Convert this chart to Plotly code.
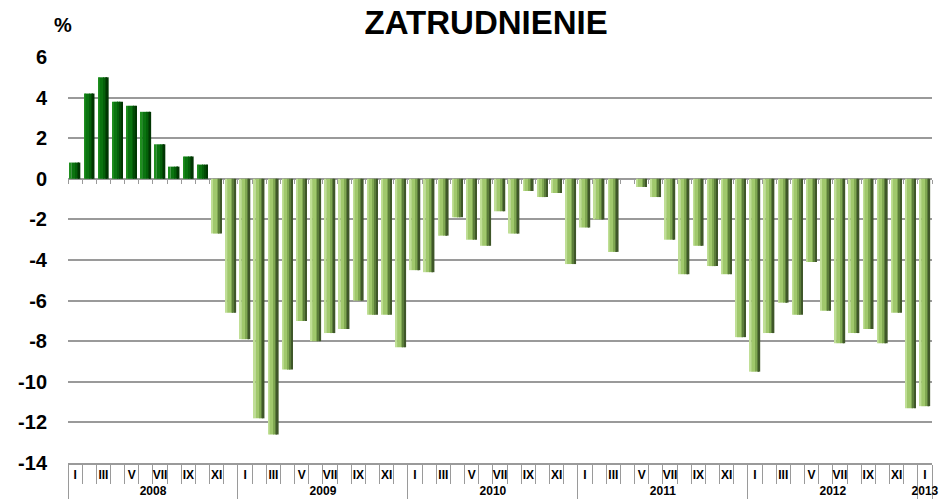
import plotly.graph_objects as go

# Monthly employment change, % y/y, Jan 2008 - Jan 2013
years = ["2008", "2009", "2010", "2011", "2012", "2013"]
months_per_year = [12, 12, 12, 12, 12, 1]
roman = ["I", "II", "III", "IV", "V", "VI", "VII", "VIII", "IX", "X", "XI", "XII"]

values = [
    0.8, 4.2, 5.0, 3.8, 3.6, 3.3, 1.7, 0.6, 1.1, 0.7, -2.7, -6.6,
    -7.9, -11.8, -12.6, -9.4, -7.0, -8.0, -7.6, -7.4, -6.0, -6.7, -6.7, -8.3,
    -4.5, -4.6, -2.8, -1.9, -3.0, -3.3, -1.6, -2.7, -0.6, -0.9, -0.7, -4.2,
    -2.4, -2.0, -3.6, 0.0, -0.4, -0.9, -3.0, -4.7, -3.3, -4.3, -4.7, -7.8,
    -9.5, -7.6, -6.1, -6.7, -4.1, -6.5, -8.1, -7.6, -7.4, -8.1, -6.6, -11.3,
    -11.2,
]

y_ticks = [6, 4, 2, 0, -2, -4, -6, -8, -10, -12, -14]
y_min, y_max = -14, 6

# two-level category axis: year / month (only odd months are labelled,
# even months get unique blank labels so every pair stays distinct)
x_year, x_month = [], []
for yr, n in zip(years, months_per_year):
    for m in range(n):
        x_year.append(yr)
        x_month.append(roman[m] if m % 2 == 0 else " " * (m + 1))

FONT = "Liberation Sans, Arial, sans-serif"
GRID = "#9a9a9a"

# bar body drawn as vertical strips to give the bevelled look
BAR_W = 0.74
strips = [
    # (start, width) as fractions of the bar, colour for positive, negative
    (0.00, 0.14, "#1f8f1f", "#c0df96"),
    (0.14, 0.40, "#0b7410", "#a0c86c"),
    (0.54, 0.16, "#05600a", "#80a852"),
    (0.70, 0.14, "#024a05", "#5b7d3a"),
    (0.84, 0.16, "#013603", "#3f5729"),
]

fig = go.Figure()
for start, width, c_pos, c_neg in strips:
    fig.add_trace(go.Bar(
        x=[x_year, x_month],
        y=values,
        width=BAR_W * width,
        offset=-BAR_W / 2 + BAR_W * start,
        marker=dict(color=[c_pos if v >= 0 else c_neg for v in values],
                    line=dict(width=0)),
        showlegend=False,
        hoverinfo="skip",
    ))

# helper trace so the zero-line tick axis is drawn
n = len(values)
fig.add_trace(go.Scatter(x=[None], y=[None], xaxis="x2", showlegend=False,
                         hoverinfo="skip"))

zero_pos = (0 - y_min) / (y_max - y_min)

fig.update_layout(
    width=941,
    height=503,
    margin=dict(l=68, r=9, t=57, b=40, autoexpand=False),
    paper_bgcolor="white",
    plot_bgcolor="white",
    barmode="overlay",
    font=dict(family=FONT, color="#000000"),
    title=dict(
        text="ZATRUDNIENIE",
        x=0.484, xref="paper", xanchor="center",
        y=1 - 22 / 503, yref="container", yanchor="middle",
        font=dict(family=FONT, size=33, weight="bold", color="#000000"),
    ),
    xaxis=dict(
        type="multicategory",
        automargin=False,
        showgrid=False,
        showline=True,
        linecolor=GRID,
        linewidth=2,
        ticks="outside",
        tickson="boundaries",
        ticklen=19,
        tickwidth=1,
        tickcolor=GRID,
        tickangle=0,
        showdividers=True,
        dividercolor=GRID,
        dividerwidth=1,
        tickfont=dict(family=FONT, size=12, weight="bold", color="#000000"),
        range=[-0.5, n - 0.5],
    ),
    xaxis2=dict(
        overlaying="x",
        anchor="free",
        position=zero_pos,
        range=[-0.5, n - 0.5],
        showgrid=False,
        zeroline=False,
        showline=False,
        ticks="outside",
        tickmode="array",
        tickvals=[i - 0.5 for i in range(n + 1)],
        ticklen=4,
        tickwidth=1,
        tickcolor=GRID,
        showticklabels=False,
    ),
    yaxis=dict(
        range=[y_min, y_max],
        automargin=False,
        tickmode="array",
        tickvals=y_ticks,
        ticktext=[str(t) for t in y_ticks],
        showgrid=True,
        gridcolor=GRID,
        gridwidth=2,
        zeroline=True,
        zerolinecolor=GRID,
        zerolinewidth=2,
        showline=False,
        ticks="",
        ticklabelstandoff=20,
        tickfont=dict(family=FONT, size=20, weight="bold", color="#000000"),
    ),
    annotations=[
        dict(
            text="%",
            x=-0.006, xref="paper", xanchor="center",
            y=1 + 32 / 406, yref="paper", yanchor="middle",
            showarrow=False,
            font=dict(family=FONT, size=20, weight="bold", color="#000000"),
        )
    ],
)

fig.write_html("out.html")
